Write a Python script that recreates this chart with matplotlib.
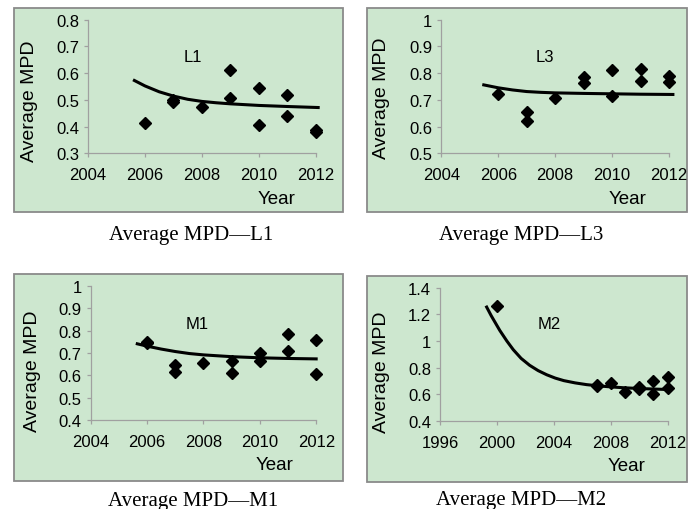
import matplotlib
matplotlib.use("Agg")
import matplotlib.pyplot as plt
from matplotlib.patches import Rectangle

plt.rcParams['font.family'] = ['Liberation Sans', 'DejaVu Sans']

# --- data ---
l1_years = [2006, 2007, 2007, 2008, 2009, 2009, 2010, 2010, 2011, 2011, 2012, 2012]
l1_mpd = [0.415, 0.49, 0.50, 0.472, 0.613, 0.508, 0.543, 0.405, 0.518, 0.44, 0.38, 0.387]
l1_trend_x = [2005.58, 2006.0, 2006.5, 2007.0, 2007.5, 2008.0, 2008.5, 2009.0, 2010.0, 2011.0, 2012.13]
l1_trend_y = [0.575, 0.552, 0.530, 0.514, 0.502, 0.494, 0.489, 0.485, 0.479, 0.475, 0.471]

l3_years = [2006, 2007, 2007, 2008, 2009, 2009, 2010, 2010, 2011, 2011, 2012, 2012]
l3_mpd = [0.72, 0.654, 0.619, 0.706, 0.785, 0.763, 0.81, 0.716, 0.816, 0.77, 0.791, 0.766]
l3_trend_x = [2005.44, 2006.0, 2006.5, 2007.0, 2007.5, 2008.0, 2009.0, 2010.0, 2011.0, 2012.19]
l3_trend_y = [0.757, 0.745, 0.737, 0.731, 0.728, 0.726, 0.724, 0.7225, 0.721, 0.720]

m1_years = [2006, 2006, 2007, 2007, 2008, 2009, 2009, 2010, 2010, 2011, 2011, 2012, 2012]
m1_mpd = [0.75, 0.745, 0.648, 0.617, 0.655, 0.665, 0.61, 0.70, 0.665, 0.785, 0.71, 0.76, 0.605]
m1_trend_x = [2005.6, 2006.0, 2006.5, 2007.0, 2007.5, 2008.0, 2008.5, 2009.0, 2010.0, 2011.0, 2012.05]
m1_trend_y = [0.743, 0.731, 0.718, 0.707, 0.698, 0.692, 0.688, 0.684, 0.679, 0.676, 0.674]

m2_years = [2000, 2007, 2007, 2008, 2009, 2010, 2010, 2011, 2011, 2012, 2012]
m2_mpd = [1.265, 0.66, 0.672, 0.683, 0.615, 0.64, 0.652, 0.70, 0.60, 0.73, 0.645]
m2_trend_x = [1999.23, 1999.6, 2000.2, 2000.7, 2001.15, 2001.7, 2002.3, 2002.9, 2003.5,
              2004.1, 2004.7, 2005.5, 2006.3, 2007.1, 2008.0, 2009.0, 2010.0, 2011.0, 2012.1]
m2_trend_y = [1.265, 1.19, 1.08, 1.00, 0.935, 0.87, 0.818, 0.778, 0.747,
              0.722, 0.703, 0.686, 0.673, 0.664, 0.656, 0.649, 0.644, 0.640, 0.636]

panels = [
    # name, years, mpd, trend x, trend y, xlim, xticks, ylim, yticks, ytick labels
    ("L1", l1_years, l1_mpd, l1_trend_x, l1_trend_y, (2004, 2012), [2004, 2006, 2008, 2010, 2012],
     (0.3, 0.8), [0.3, 0.4, 0.5, 0.6, 0.7, 0.8], ["0.3", "0.4", "0.5", "0.6", "0.7", "0.8"]),
    ("L3", l3_years, l3_mpd, l3_trend_x, l3_trend_y, (2004, 2012), [2004, 2006, 2008, 2010, 2012],
     (0.5, 1.0), [0.5, 0.6, 0.7, 0.8, 0.9, 1.0], ["0.5", "0.6", "0.7", "0.8", "0.9", "1"]),
    ("M1", m1_years, m1_mpd, m1_trend_x, m1_trend_y, (2004, 2012), [2004, 2006, 2008, 2010, 2012],
     (0.4, 1.0), [0.4, 0.5, 0.6, 0.7, 0.8, 0.9, 1.0], ["0.4", "0.5", "0.6", "0.7", "0.8", "0.9", "1"]),
    ("M2", m2_years, m2_mpd, m2_trend_x, m2_trend_y, (1996, 2012), [1996, 2000, 2004, 2008, 2012],
     (0.4, 1.4), [0.4, 0.6, 0.8, 1.0, 1.2, 1.4], ["0.4", "0.6", "0.8", "1", "1.2", "1.4"]),
]

# layout (figure fractions)
boxes = [(0.0203, 0.5824, 0.4782, 0.400), (0.5334, 0.5824, 0.4651, 0.400),
         (0.0203, 0.0549, 0.4782, 0.4059), (0.5334, 0.0529, 0.4651, 0.4039)]
axes_pos = [(0.1279, 0.6975, 0.3314, 0.2620), (0.6414, 0.6975, 0.3310, 0.2620),
            (0.1318, 0.1739, 0.3279, 0.2636), (0.6395, 0.1725, 0.3310, 0.2614)]
ylab_pos = [(-0.257, 0.40), (-0.262, 0.42), (-0.257, 0.37), (-0.256, 0.37)]
xlab_pos = [(0.825, -0.335), (0.82, -0.336), (0.817, -0.33), (0.821, -0.335)]
name_pos = [(0.462, 0.723), (0.457, 0.726), (0.4725, 0.722), (0.48, 0.73)]
captions = [(0.278, 1 - 240 / 510), (0.758, 1 - 240 / 510),
            (0.2805, 1 - 506 / 510), (0.758, 1 - 505 / 510)]

fig = plt.figure(figsize=(6.88, 5.10), dpi=100)

for i, p in enumerate(panels):
    name, xs, ys, tx, ty, xlim, xticks, ylim, yticks, ylabels = p
    bx = boxes[i]
    fig.add_artist(Rectangle((bx[0], bx[1]), bx[2], bx[3], transform=fig.transFigure,
                             facecolor="#cde7cf", edgecolor="#8a8a8a", linewidth=1.3,
                             zorder=-5))

    ax = fig.add_axes(axes_pos[i])
    ax.set_facecolor("none")
    ax.plot(tx, ty, color="black", linewidth=2.2, clip_on=False, zorder=3,
            solid_joinstyle="round", solid_capstyle="butt")
    ax.plot(xs, ys, linestyle="none", marker="D", markersize=6.4, color="black",
            clip_on=False, zorder=4)
    ax.set_xlim(*xlim)
    ax.set_ylim(*ylim)
    ax.set_xticks(xticks)
    ax.set_yticks(yticks)
    ax.set_yticklabels(ylabels)
    for s in ["top", "right"]:
        ax.spines[s].set_visible(False)
    for s in ["left", "bottom"]:
        ax.spines[s].set_color("#a0a0a0")
        ax.spines[s].set_linewidth(0.9)
    ax.tick_params(axis="both", colors="#a0a0a0", labelcolor="black", labelsize=12,
                   length=3, width=0.9)
    ax.tick_params(axis="x", pad=7)
    ax.set_ylabel("Average MPD", fontsize=14)
    ax.yaxis.set_label_coords(*ylab_pos[i])
    ax.set_xlabel("Year", fontsize=13.5)
    ax.xaxis.set_label_coords(*xlab_pos[i])
    ax.xaxis.label.set_va("center")
    ax.yaxis.label.set_va("center")
    ax.text(name_pos[i][0], name_pos[i][1], name, transform=ax.transAxes,
            fontsize=12, ha="center", va="center")

    fig.text(captions[i][0], captions[i][1], "Average MPD\u2014" + name,
             family="Liberation Serif", fontsize=15, ha="center", va="baseline")

fig.savefig("out.png", dpi=100)
